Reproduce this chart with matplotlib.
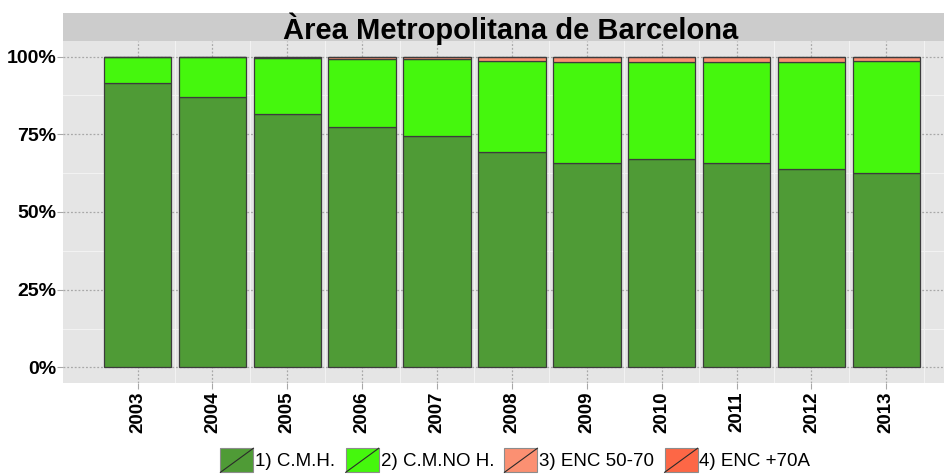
import numpy as np
import matplotlib
matplotlib.use("Agg")
import matplotlib.pyplot as plt
from matplotlib.patches import Rectangle, Patch
from matplotlib.lines import Line2D
from matplotlib.legend_handler import HandlerPatch
from matplotlib.ticker import FixedLocator, PercentFormatter

# Data (shares of total, %)
years = ["2003", "2004", "2005", "2006", "2007", "2008", "2009", "2010", "2011", "2012", "2013"]
cmh = [91.6, 87.0, 81.6, 77.3, 74.6, 69.3, 65.6, 67.2, 65.9, 63.7, 62.4]
cm_no_h = [8.1, 12.7, 18.0, 22.0, 24.7, 29.3, 32.6, 31.1, 32.4, 34.7, 36.1]
enc_50_70 = [0.2, 0.2, 0.3, 0.5, 0.5, 1.1, 1.5, 1.4, 1.4, 1.3, 1.2]
enc_70 = [0.1, 0.1, 0.1, 0.2, 0.2, 0.3, 0.3, 0.3, 0.3, 0.3, 0.3]

series_names = ["1) C.M.H.", "2) C.M.NO H.", "3) ENC 50-70", "4) ENC +70A"]
colors = ["#4f9b36", "#45f70d", "#fb9072", "#fd6746"]

plt.rcParams["font.family"] = ["Liberation Sans", "DejaVu Sans"]


class SlashKey(HandlerPatch):
    def create_artists(self, legend, orig_handle, xdescent, ydescent,
                       width, height, fontsize, trans):
        r = Rectangle((-xdescent, -ydescent), width, height,
                      facecolor=orig_handle.get_facecolor(),
                      edgecolor="#8c8c8c", lw=0.8, transform=trans)
        ln = Line2D([-xdescent, -xdescent + width], [-ydescent, -ydescent + height],
                    color="#2a2a2a", lw=0.8, transform=trans)
        return [r, ln]


def main():
    data = np.array([cmh, cm_no_h, enc_50_70, enc_70]) / 100.0
    data = data / data.sum(axis=0)
    x = np.arange(len(years))

    fig = plt.figure(figsize=(9.44, 4.76), dpi=100)
    ax = fig.add_axes([63 / 944, 1 - 383 / 476, 881 / 944, 342 / 476])
    ax.set_facecolor("#e5e5e5")

    # grid
    ax.set_axisbelow(True)
    ax.yaxis.set_minor_locator(FixedLocator([0.125, 0.375, 0.625, 0.875]))
    ax.xaxis.set_minor_locator(FixedLocator(x + 0.5))
    ax.grid(which="minor", color="#f2f2f2", lw=0.8, ls="-")
    ax.grid(which="major", color="#a8a8a8", lw=0.9, ls=(0, (1.5, 1.5)))

    bottom = np.zeros(len(years))
    for vals, col in zip(data, colors):
        ax.bar(x, vals, width=0.9, bottom=bottom, color=col,
               edgecolor="#3c3c3c", linewidth=0.9, zorder=3)
        bottom += vals

    ax.set_xlim(-0.995, 10.77)
    ax.set_ylim(-0.05, 1.05)
    ax.set_yticks([0, 0.25, 0.5, 0.75, 1.0])
    ax.yaxis.set_major_formatter(PercentFormatter(1.0, decimals=0))
    ax.set_xticks(x)
    ax.set_xticklabels(years, rotation=90)
    for lab in ax.get_yticklabels():
        lab.set_fontweight("bold")
        lab.set_fontsize(14)
    for lab in ax.get_xticklabels():
        lab.set_fontweight("bold")
        lab.set_fontsize(13.5)
    ax.tick_params(which="major", length=4, color="#a8a8a8")
    ax.tick_params(axis="y", pad=1)
    ax.tick_params(axis="x", pad=2)
    ax.tick_params(which="minor", length=0)
    for s in ax.spines.values():
        s.set_visible(False)

    # facet strip
    strip = fig.add_axes([63 / 944, 1 - 41 / 476, 881 / 944, 28 / 476])
    strip.set_facecolor("#cccccc")
    strip.set_xticks([])
    strip.set_yticks([])
    for s in strip.spines.values():
        s.set_visible(False)
    strip.text(0.5085, 0.45, "Àrea Metropolitana de Barcelona", ha="center", va="center",
               fontsize=21, fontweight="bold", transform=strip.transAxes)

    handles = [Patch(facecolor=c) for c in colors]
    fig.legend(handles, series_names, loc="center", bbox_to_anchor=(0.546, 0.033),
               ncol=4, frameon=False,
               handler_map={Patch: SlashKey()},
               handlelength=1.76, handleheight=1.6, handletextpad=0.1,
               columnspacing=0.55, borderpad=0, prop={"size": 13.5})

    fig.savefig("out.png", dpi=100)
    plt.close(fig)


if __name__ == "__main__":
    main()
